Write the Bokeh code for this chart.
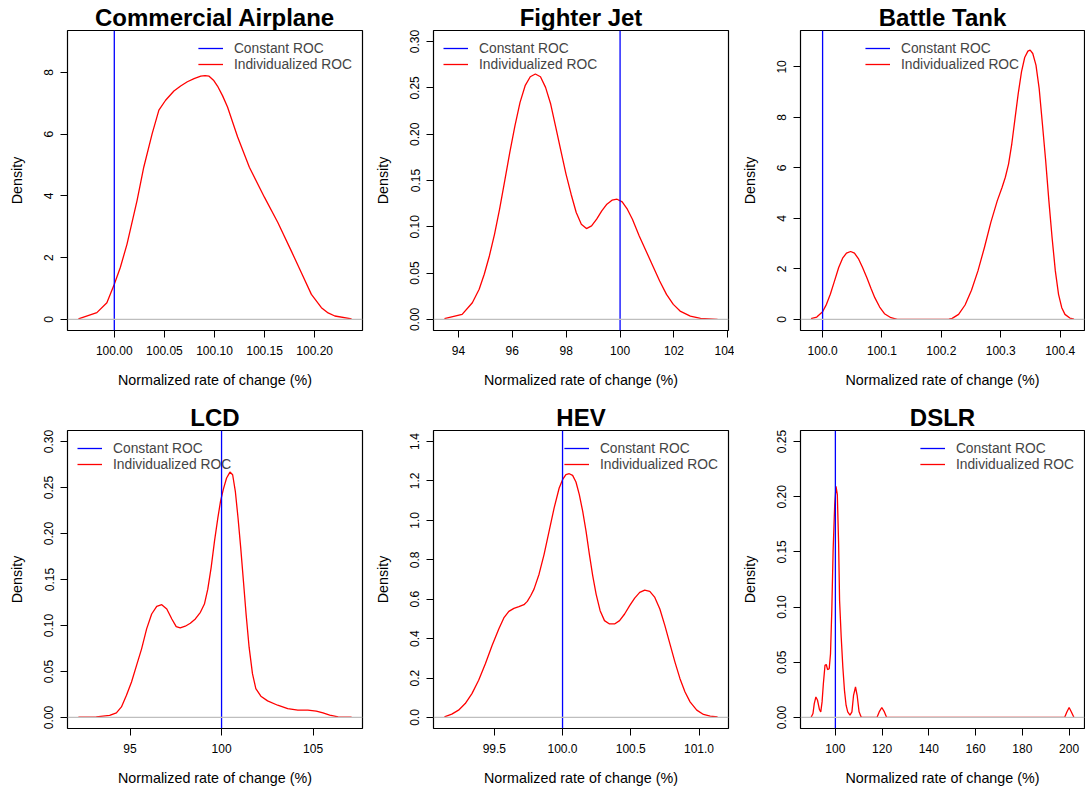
from bokeh.plotting import figure
from bokeh.layouts import column, row
from bokeh.models import Span, Legend, LegendItem, FixedTicker, Range1d
from bokeh.embed import file_html
from bokeh.resources import INLINE

# ---------------- data ----------------
constant_roc = 100.0
x_axis_title = "Normalized rate of change (%)"
y_axis_title = "Density"
legend_labels = ["Constant ROC", "Individualized ROC"]

airplane_title = "Commercial Airplane"
airplane_x = [99.9642, 99.9826, 99.9926, 100.0000, 100.0060, 100.0127, 100.0227, 100.0294,
              100.0378, 100.0445, 100.0512, 100.0595, 100.0662, 100.0729, 100.0796, 100.0863,
              100.0906, 100.0946, 100.0990, 100.1030, 100.1080, 100.1130, 100.1231, 100.1348,
              100.1498, 100.1632, 100.1766, 100.1866, 100.1967, 100.2067, 100.2134, 100.2201,
              100.2368]
airplane_y = [0.02, 0.22, 0.54, 1.14, 1.68, 2.44, 3.85, 4.93, 6.02, 6.78, 7.10, 7.40, 7.56,
              7.70, 7.80, 7.88, 7.90, 7.88, 7.75, 7.56, 7.25, 6.88, 5.91, 4.93, 3.96, 3.14,
              2.22, 1.52, 0.81, 0.38, 0.21, 0.11, 0.02]
airplane_xticks = [100.00, 100.05, 100.10, 100.15, 100.20]
airplane_xlabels = ["100.00", "100.05", "100.10", "100.15", "100.20"]
airplane_yticks = [0, 2, 4, 6, 8]
airplane_ylabels = ["0", "2", "4", "6", "8"]
airplane_ymax = 9.0

jet_title = "Fighter Jet"
jet_x = [93.482, 94.139, 94.518, 94.771, 94.960, 95.150, 95.340, 95.529, 95.719, 95.908,
         96.098, 96.288, 96.477, 96.667, 96.856, 97.046, 97.235, 97.425, 97.615, 97.804,
         97.994, 98.183, 98.373, 98.562, 98.752, 98.942, 99.131, 99.321, 99.510, 99.700,
         99.889, 100.079, 100.269, 100.458, 100.711, 100.964, 101.216, 101.469, 101.722,
         101.975, 102.227, 102.607, 102.986, 103.618]
jet_y = [0.0007, 0.0054, 0.0180, 0.0325, 0.0487, 0.0685, 0.0919, 0.1190, 0.1496, 0.1803,
         0.2091, 0.2344, 0.2524, 0.2621, 0.2650, 0.2621, 0.2506, 0.2326, 0.2073, 0.1821,
         0.1569, 0.1352, 0.1154, 0.1028, 0.0981, 0.1010, 0.1082, 0.1172, 0.1244, 0.1287,
         0.1298, 0.1269, 0.1190, 0.1082, 0.0901, 0.0739, 0.0577, 0.0415, 0.0270, 0.0162,
         0.0090, 0.0036, 0.0011, 0.0]
jet_xticks = [94, 96, 98, 100, 102, 104]
jet_xlabels = ["94", "96", "98", "100", "102", "104"]
jet_yticks = [0.00, 0.05, 0.10, 0.15, 0.20, 0.25, 0.30]
jet_ylabels = ["0.00", "0.05", "0.10", "0.15", "0.20", "0.25", "0.30"]
jet_ymax = 0.30

tank_title = "Battle Tank"
tank_x = [99.9805, 99.9902, 100.0, 100.0065, 100.0130, 100.0201, 100.0271, 100.0337,
          100.0402, 100.0472, 100.0537, 100.0608, 100.0673, 100.0744, 100.0814, 100.0879,
          100.0961, 100.1042, 100.1151, 100.1259, 100.1639, 100.2128, 100.2182, 100.2290,
          100.2399, 100.2507, 100.2616, 100.2725, 100.2833, 100.2942, 100.3023, 100.3077,
          100.3132, 100.3186, 100.3240, 100.3294, 100.3349, 100.3403, 100.3457, 100.3495,
          100.3539, 100.3593, 100.3647, 100.3701, 100.3756, 100.3810, 100.3864, 100.3919,
          100.3973, 100.4027, 100.4081, 100.4163, 100.4233]
tank_y = [0.026, 0.093, 0.305, 0.596, 0.993, 1.523, 2.053, 2.424, 2.623, 2.689, 2.623,
          2.384, 2.053, 1.656, 1.232, 0.861, 0.490, 0.225, 0.066, 0.0, 0.0, 0.013, 0.040,
          0.199, 0.570, 1.152, 1.921, 2.848, 3.841, 4.702, 5.232, 5.629, 6.159, 6.954,
          7.947, 8.940, 9.801, 10.371, 10.623, 10.662, 10.530, 10.066, 9.139, 7.748, 6.291,
          4.702, 3.245, 1.921, 0.993, 0.464, 0.199, 0.053, 0.013]
tank_xticks = [100.0, 100.1, 100.2, 100.3, 100.4]
tank_xlabels = ["100.0", "100.1", "100.2", "100.3", "100.4"]
tank_yticks = [0, 2, 4, 6, 8, 10]
tank_ylabels = ["0", "2", "4", "6", "8", "10"]
tank_ymax = 11.0

lcd_title = "LCD"
lcd_x = [92.183, 93.156, 93.890, 94.257, 94.532, 94.807, 95.083, 95.358, 95.633, 95.908,
         96.183, 96.459, 96.734, 97.009, 97.284, 97.523, 97.743, 98.018, 98.294, 98.569,
         98.844, 99.064, 99.248, 99.431, 99.615, 99.798, 99.945, 100.092, 100.275, 100.459,
         100.606, 100.752, 100.899, 101.046, 101.193, 101.339, 101.505, 101.688, 101.872,
         102.147, 102.514, 103.064, 103.615, 104.165, 104.716, 105.174, 105.541, 105.908,
         106.367, 107.101]
lcd_y = [0.0004, 0.0007, 0.0022, 0.0050, 0.0115, 0.0242, 0.0386, 0.0566, 0.0746, 0.0963,
         0.1125, 0.1208, 0.1226, 0.1179, 0.1071, 0.0988, 0.0974, 0.0992, 0.1024, 0.1071,
         0.1143, 0.1233, 0.1395, 0.1630, 0.1918, 0.2171, 0.2351, 0.2477, 0.2603, 0.2668,
         0.2639, 0.2459, 0.2171, 0.1846, 0.1486, 0.1125, 0.0764, 0.0476, 0.0314, 0.0231,
         0.0180, 0.0133, 0.0097, 0.0079, 0.0079, 0.0069, 0.0050, 0.0025, 0.0007, 0.0004]
lcd_xticks = [95, 100, 105]
lcd_xlabels = ["95", "100", "105"]
lcd_yticks = [0.00, 0.05, 0.10, 0.15, 0.20, 0.25, 0.30]
lcd_ylabels = ["0.00", "0.05", "0.10", "0.15", "0.20", "0.25", "0.30"]
lcd_ymax = 0.30

hev_title = "HEV"
hev_x = [99.1345, 99.1886, 99.2378, 99.2869, 99.3361, 99.3853, 99.4345, 99.4837, 99.5328,
         99.5697, 99.6066, 99.6435, 99.6804, 99.7172, 99.7418, 99.7664, 99.7910, 99.8279,
         99.8648, 99.9016, 99.9385, 99.9754, 100.0, 100.0246, 100.0492, 100.0738, 100.0984,
         100.1229, 100.1475, 100.1721, 100.1967, 100.2213, 100.2459, 100.2754, 100.3074,
         100.3442, 100.3811, 100.4180, 100.4549, 100.4918, 100.5286, 100.5655, 100.6024,
         100.6393, 100.6762, 100.7131, 100.7500, 100.7868, 100.8237, 100.8606, 100.8975,
         100.9344, 100.9835, 101.0327, 101.0819, 101.1360]
hev_y = [0.0034, 0.0168, 0.0370, 0.0707, 0.1211, 0.1885, 0.2726, 0.3651, 0.4493, 0.5048,
         0.5384, 0.5536, 0.5620, 0.5721, 0.5889, 0.6175, 0.6512, 0.7269, 0.8279, 0.9457,
         1.0634, 1.1644, 1.2065, 1.2317, 1.2367, 1.2283, 1.1947, 1.1307, 1.0466, 0.9457,
         0.8279, 0.7185, 0.6259, 0.5418, 0.4913, 0.4745, 0.4745, 0.4913, 0.5250, 0.5671,
         0.6058, 0.6344, 0.6461, 0.6394, 0.6091, 0.5502, 0.4661, 0.3735, 0.2810, 0.1969,
         0.1296, 0.0791, 0.0370, 0.0151, 0.0067, 0.0034]
hev_xticks = [99.5, 100.0, 100.5, 101.0]
hev_xlabels = ["99.5", "100.0", "100.5", "101.0"]
hev_yticks = [0.0, 0.2, 0.4, 0.6, 0.8, 1.0, 1.2, 1.4]
hev_ylabels = ["0.0", "0.2", "0.4", "0.6", "0.8", "1.0", "1.2", "1.4"]
hev_ymax = 1.4

dslr_title = "DSLR"
dslr_x = [89.58, 90.42, 90.97, 91.67, 92.36, 93.19, 93.75, 94.31, 94.86, 95.56, 96.11, 96.67,
          97.36, 97.92, 98.47, 99.03, 99.72, 100.28, 100.83, 101.39, 101.80, 102.50, 103.19,
          103.89, 104.58, 105.28, 106.25, 107.08, 107.78, 108.61, 109.31, 110.14, 110.97,
          111.50, 117.78, 118.75, 119.86, 120.97, 121.94, 198.06, 199.03, 200.00, 200.97,
          202.08]
dslr_y = [0.0, 0.0036, 0.0126, 0.0186, 0.0156, 0.0072, 0.0051, 0.0141, 0.0306, 0.0472,
          0.048, 0.0433, 0.0442, 0.0577, 0.0968, 0.151, 0.193, 0.2094, 0.202, 0.157, 0.106,
          0.0727, 0.0457, 0.0246, 0.0111, 0.0051, 0.0021, 0.0051, 0.0201, 0.0276, 0.0201,
          0.0051, 0.0006, 0.0, 0.0, 0.005, 0.009, 0.005, 0.0, 0.0, 0.005, 0.009, 0.005, 0.0]
dslr_xticks = [100, 120, 140, 160, 180, 200]
dslr_xlabels = ["100", "120", "140", "160", "180", "200"]
dslr_yticks = [0.00, 0.05, 0.10, 0.15, 0.20, 0.25]
dslr_ylabels = ["0.00", "0.05", "0.10", "0.15", "0.20", "0.25"]
dslr_ymax = 0.25

FONT = "Liberation Sans"


def make_panel(title, xs, ys, xticks, xlabels, yticks, ylabels, ymax, legend_loc,
               width, height, left, right, top, bottom):
    span = max(xs) - min(xs)
    x0, x1 = min(xs) - 0.04 * span, max(xs) + 0.04 * span
    y0, y1 = -0.04 * ymax, 1.04 * ymax
    p = figure(width=width, height=height, output_backend="svg", toolbar_location=None,
               x_range=Range1d(x0, x1), y_range=Range1d(y0, y1),
               min_border_left=left, min_border_right=right,
               min_border_top=top, min_border_bottom=bottom, title=title)
    p.title.text_font = FONT
    p.title.text_font_size = "24px"
    p.title.text_font_style = "bold"
    p.title.text_color = "black"
    p.title.align = "center"
    p.title.standoff = 0
    p.grid.visible = False
    p.outline_line_color = "black"
    p.outline_line_width = 1.2
    p.background_fill_color = "white"
    p.border_fill_color = "white"

    zero = Span(location=0, dimension="width", line_color="#BEBEBE", line_width=1.2)
    p.add_layout(zero)
    red = p.line(xs, ys, line_color="red", line_width=1.3)
    blue = p.line([constant_roc, constant_roc], [y0, y1], line_color="blue", line_width=1.3)

    for ax in (p.xaxis[0], p.yaxis[0]):
        ax.axis_line_color = None
        ax.major_tick_out = 7
        ax.major_tick_in = 0
        ax.minor_tick_out = 0
        ax.minor_tick_in = 0
        ax.major_tick_line_color = "black"
        ax.major_label_text_font = FONT
        ax.major_label_text_font_size = "12px"
        ax.major_label_text_color = "black"
        ax.axis_label_text_font = FONT
        ax.axis_label_text_font_size = "14.3px"
        ax.axis_label_text_font_style = "normal"
        ax.axis_label_text_color = "black"

    p.xaxis.ticker = FixedTicker(ticks=xticks)
    p.xaxis.major_label_overrides = dict(zip(xticks, xlabels))
    p.xaxis.major_label_standoff = 8
    p.xaxis.axis_label = x_axis_title
    p.xaxis.axis_label_standoff = 14

    p.yaxis.ticker = FixedTicker(ticks=yticks)
    p.yaxis.major_label_overrides = dict(zip(yticks, ylabels))
    p.yaxis.major_label_orientation = "vertical"
    p.yaxis.major_label_standoff = 7
    p.yaxis.axis_label = y_axis_title
    p.yaxis.axis_label_standoff = 17

    legend = Legend(items=[LegendItem(label=legend_labels[0], renderers=[blue]),
                           LegendItem(label=legend_labels[1], renderers=[red])],
                    location=legend_loc, label_text_font=FONT, label_text_font_size="13.8px",
                    glyph_width=25, glyph_height=16, label_height=16, label_standoff=11,
                    spacing=0, padding=0, margin=10, background_fill_alpha=0,
                    border_line_alpha=0)
    p.add_layout(legend)
    return p


# columns: widths / borders ; rows: heights / borders
p1 = make_panel(airplane_title, airplane_x, airplane_y, airplane_xticks, airplane_xlabels,
                airplane_yticks, airplane_ylabels, airplane_ymax, "top_right",
                367, 400, 67, 5, 30, 70)
p2 = make_panel(jet_title, jet_x, jet_y, jet_xticks, jet_xlabels,
                jet_yticks, jet_ylabels, jet_ymax, "top_left",
                367, 400, 66, 6, 30, 70)
p3 = make_panel(tank_title, tank_x, tank_y, tank_xticks, tank_xlabels,
                tank_yticks, tank_ylabels, tank_ymax, "top_center",
                351, 400, 66, 1, 30, 70)
p4 = make_panel(lcd_title, lcd_x, lcd_y, lcd_xticks, lcd_xlabels,
                lcd_yticks, lcd_ylabels, lcd_ymax, "top_left",
                367, 390, 67, 5, 30, 62)
p5 = make_panel(hev_title, hev_x, hev_y, hev_xticks, hev_xlabels,
                hev_yticks, hev_ylabels, hev_ymax, "top_right",
                367, 390, 66, 6, 30, 62)
p6 = make_panel(dslr_title, dslr_x, dslr_y, dslr_xticks, dslr_xlabels,
                dslr_yticks, dslr_ylabels, dslr_ymax, "top_right",
                351, 390, 66, 1, 30, 62)

layout = column(row(p1, p2, p3), row(p4, p5, p6))
open("out.html", "w").write(file_html(layout, INLINE))
